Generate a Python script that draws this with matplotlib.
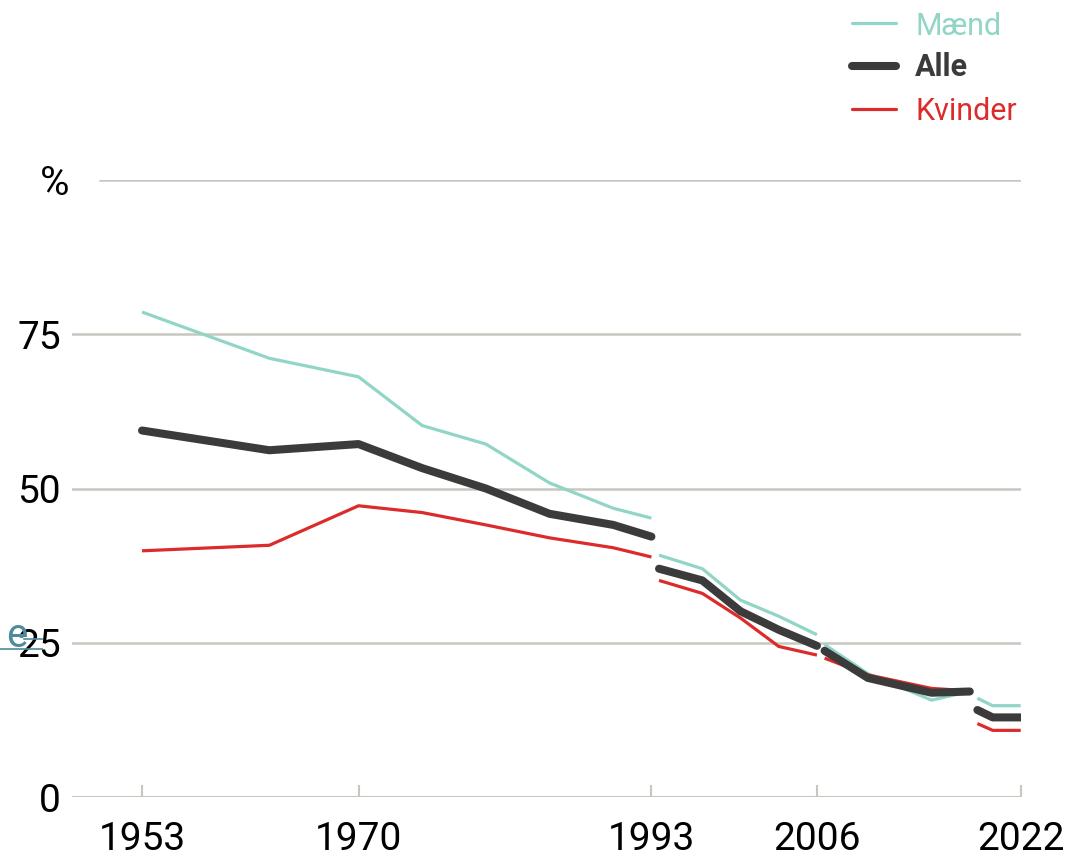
import matplotlib.pyplot as plt
from matplotlib.lines import Line2D

plt.rcParams['font.family'] = ['Roboto', 'DejaVu Sans']

# data (share of smokers, %), split where the series break
years_1 = [1953, 1963, 1970, 1975, 1980, 1985, 1990, 1993]
maend_1 = [78.6, 71.1, 68.1, 60.2, 57.2, 50.9, 46.8, 45.2]
alle_1 = [59.4, 56.2, 57.2, 53.3, 50.0, 45.9, 44.1, 42.2]
kvinder_1 = [39.9, 40.8, 47.2, 46.1, 44.1, 42.0, 40.4, 38.9]

years_2 = [1993.6, 1997, 2000, 2003, 2006]
maend_2 = [39.2, 37.0, 31.9, 29.3, 26.3]
alle_2 = [37.0, 35.1, 30.1, 27.1, 24.5]
kvinder_2 = [35.1, 33.0, 29.0, 24.4, 23.0]

years_3 = [2006.6, 2010, 2015, 2018]
maend_3 = [24.7, 20.0, 15.7, 17.1]
alle_3 = [23.7, 19.3, 16.9, 17.1]
kvinder_3 = [22.5, 19.8, 17.6, 17.2]

years_4 = [2018.6, 2019.8, 2022]
maend_4 = [16.0, 14.8, 14.8]
alle_4 = [14.1, 12.9, 12.9]
kvinder_4 = [11.9, 10.8, 10.8]

tick_years = [1953, 1970, 1993, 2006, 2022]
y_ticks = [0, 25, 50, 75]

teal = '#91d5c6'
dark = '#3b3b3b'
red = '#dc2b2b'
grid = '#c8c7bf'

fig = plt.figure(figsize=(10.66, 8.61), dpi=100)
ax = fig.add_axes([72/1066, 64/861, 948.7/1066, 617/861])

segments = [
    (years_1, maend_1, alle_1, kvinder_1),
    (years_2, maend_2, alle_2, kvinder_2),
    (years_3, maend_3, alle_3, kvinder_3),
    (years_4, maend_4, alle_4, kvinder_4),
]
for yrs, m, a, k in segments:
    ax.plot(yrs, m, color=teal, lw=2.3, solid_capstyle='butt', zorder=3)
    ax.plot(yrs, k, color=red, lw=2.3, solid_capstyle='butt', zorder=4)
    ax.plot(yrs, a, color=dark, lw=5.8, solid_capstyle='round',
            solid_joinstyle='round', zorder=5)

for v in [25, 50, 75]:
    ax.axhline(v, color=grid, lw=1.8, zorder=1)
ax.axhline(100, xmin=0.03, color=grid, lw=1.8, zorder=1)
ax.axhline(0, color=grid, lw=2.2, zorder=1)

ax.set_xlim(1947.5, 2022)
ax.set_ylim(0, 100)
for s in ax.spines.values():
    s.set_visible(False)

ax.set_xticks(tick_years)
ax.set_xticklabels([str(y) for y in tick_years])
ax.tick_params(axis='x', direction='in', length=8.5, width=1.5, color=grid,
               pad=17, labelsize=28, labelcolor='black')
ax.set_yticks(y_ticks)
ax.set_yticklabels([str(v) for v in y_ticks])
ax.tick_params(axis='y', length=0, pad=8, labelsize=28, labelcolor='black')

fig.text(55/1066, 1 - 195/861, '%', ha='center', va='baseline', fontsize=29)

# stray underlined "e" left of the 25 label
fig.text(6/1066, 1 - 647/861, 'e', color='#4f8a9b', fontsize=29, va='baseline')
fig.add_artist(Line2D([0, 42/1066], [1 - 649/861, 1 - 649/861], color='#4f8a9b', lw=1.2))
fig.add_artist(Line2D([24/1066, 42/1066], [1 - 639/861, 1 - 639/861], color='#4f8a9b', lw=1.2))

# legend
legend = [('Mænd', teal, 2.3, 'normal', 23, 35),
          ('Alle', dark, 5.8, 'bold', 66, 76),
          ('Kvinder', red, 2.3, 'normal', 109, 120)]
for label, col, lw, weight, ly, base in legend:
    fig.add_artist(Line2D([852/1066, 896/1066], [1 - ly/861, 1 - ly/861],
                          color=col, lw=lw, solid_capstyle='round'))
    fig.text(915/1066, 1 - base/861, label, color=col, fontsize=22,
             fontweight=weight, va='baseline', ha='left')

fig.savefig('out.png', dpi=100)
